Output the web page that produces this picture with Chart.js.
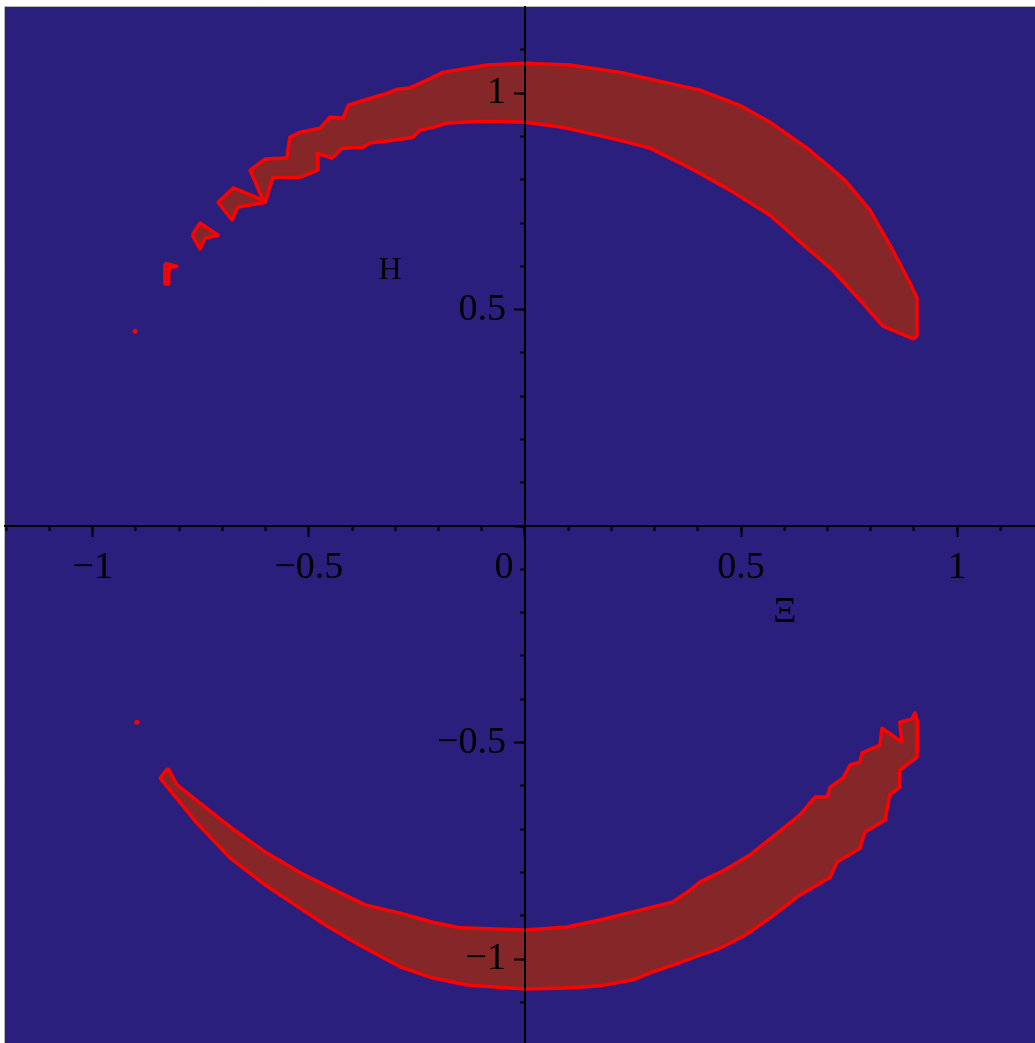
<!DOCTYPE html>
<html>
<head>
<meta charset="utf-8">
<script src="https://cdn.jsdelivr.net/npm/chart.js@4.4.1/dist/chart.umd.min.js"></script>
<style>
html,body{margin:0;padding:0;background:#ffffff;overflow:hidden;}
#wrap{width:1035px;height:1043px;}
canvas{display:block;}
</style>
</head>
<body>
<div id="wrap"><canvas id="c" width="1035" height="1043"></canvas></div>
<script>
// ---- data ----
const upperX = [0.900,0.828,0.775,0.712,0.659,0.567,0.474,0.382,0.289,0.220,0.167,0.088,0.000,-0.088,-0.180,-0.213,-0.243,-0.259,-0.305,-0.359,-0.375,-0.423,-0.446,-0.481,-0.479,-0.520,-0.583,-0.601,-0.664,-0.678,-0.710,-0.675,-0.606,-0.636,-0.601,-0.551,-0.544,-0.520,-0.474,-0.451,-0.421,-0.409,-0.365,-0.324,-0.296,-0.266,-0.227,-0.190,-0.088,0.000,0.104,0.220,0.405,0.497,0.567,0.659,0.740,0.798,0.851,0.891,0.907,0.907];
const upperY = [0.432,0.462,0.522,0.591,0.637,0.718,0.776,0.827,0.873,0.891,0.903,0.921,0.933,0.935,0.931,0.921,0.915,0.898,0.891,0.885,0.875,0.873,0.850,0.861,0.822,0.806,0.806,0.748,0.737,0.707,0.748,0.781,0.753,0.822,0.848,0.850,0.898,0.910,0.919,0.945,0.942,0.972,0.986,0.998,1.009,1.012,1.030,1.048,1.065,1.069,1.065,1.048,1.007,0.972,0.933,0.868,0.799,0.730,0.637,0.561,0.527,0.441];
const fragAX = [-0.770,-0.752,-0.710,-0.740,-0.752];
const fragAY = [0.672,0.700,0.672,0.665,0.640];
const fragBX = [-0.833,-0.805,-0.824,-0.824,-0.833];
const fragBY = [0.607,0.600,0.596,0.559,0.559];
const dotsX = [-0.902,-0.898];
const dotsY = [0.450,-0.453];
const lowerX = [-0.826,-0.805,-0.752,-0.682,-0.601,-0.520,-0.440,-0.370,-0.289,-0.213,-0.150,0.000,0.097,0.173,0.266,0.342,0.382,0.405,0.463,0.520,0.578,0.636,0.671,0.699,0.706,0.736,0.752,0.775,0.780,0.821,0.826,0.872,0.867,0.895,0.902,0.909,0.907,0.867,0.867,0.844,0.833,0.786,0.775,0.722,0.706,0.636,0.567,0.509,0.451,0.405,0.342,0.289,0.250,0.173,0.097,0.000,-0.134,-0.213,-0.289,-0.382,-0.463,-0.532,-0.601,-0.682,-0.759,-0.844];
const lowerY = [-0.559,-0.598,-0.640,-0.695,-0.753,-0.801,-0.841,-0.875,-0.894,-0.915,-0.928,-0.933,-0.926,-0.910,-0.887,-0.868,-0.841,-0.822,-0.794,-0.760,-0.714,-0.667,-0.626,-0.626,-0.603,-0.582,-0.552,-0.545,-0.524,-0.506,-0.467,-0.499,-0.453,-0.446,-0.432,-0.453,-0.533,-0.564,-0.603,-0.621,-0.679,-0.707,-0.744,-0.776,-0.811,-0.852,-0.905,-0.945,-0.975,-0.991,-1.014,-1.032,-1.048,-1.062,-1.067,-1.069,-1.060,-1.044,-1.018,-0.968,-0.921,-0.875,-0.829,-0.767,-0.686,-0.582];
const xTickValues = [-1,-0.5,0.5,1];
const xTickLabels = ['\u22121','\u22120.5','0.5','1'];
const yTickValues = [-1,-0.5,0.5,1];
const yTickLabels = ['\u22121','\u22120.5','0.5','1'];
const xTitle = '\u039E';
const yTitle = 'H';
const originLabel = '0';

// ---- helpers ----
function closedPoly(xs, ys){
  const pts = xs.map((x,i)=>({x:x, y:ys[i]}));
  pts.push({x:xs[0], y:ys[0]});
  return pts;
}
const BG = '#2a1f7d';
const FILL = '#852628';
const EDGE = '#ff0000';
const SERIF = "'Liberation Serif', 'DejaVu Serif', serif";

function shapeDs(xs, ys){
  return {data: closedPoly(xs, ys), showLine:true, fill:'shape', backgroundColor:FILL, borderColor:EDGE,
    borderWidth:3.5, borderJoinStyle:'round', pointRadius:0, pointHoverRadius:0, tension:0};
}

const bgPlugin = {
  id:'bg',
  beforeDraw(chart){
    const {ctx, chartArea:a} = chart;
    ctx.save();
    ctx.fillStyle = BG;
    ctx.fillRect(a.left, a.top, a.right-a.left, a.bottom-a.top);
    ctx.strokeStyle = '#b8b8b8';
    ctx.lineWidth = 1;
    ctx.beginPath();
    ctx.moveTo(a.left-0.5, a.bottom); ctx.lineTo(a.left-0.5, a.top-0.5); ctx.lineTo(a.right, a.top-0.5);
    ctx.stroke();
    ctx.restore();
  }
};
const textPlugin = {
  id:'texts',
  afterDraw(chart){
    const {ctx, scales} = chart;
    const xs = scales.x, ys = scales.y;
    ctx.save();
    ctx.fillStyle = '#000';
    ctx.textAlign = 'center';
    ctx.textBaseline = 'middle';
    ctx.font = "38px " + SERIF;
    ctx.fillText(originLabel, xs.getPixelForValue(0) - 21, ys.getPixelForValue(0) + 42);
    ctx.font = "32px " + SERIF;
    ctx.fillText(yTitle, xs.getPixelForValue(-0.312), ys.getPixelForValue(0.591));
    ctx.font = "36px " + SERIF;
    ctx.fillText(xTitle, xs.getPixelForValue(0.601), ys.getPixelForValue(-0.199));
    ctx.restore();
  }
};

function labelFor(values, labels, suffix){
  return function(v){
    for (let i=0;i<values.length;i++){ if (Math.abs(values[i]-v) < 1e-6) return labels[i] + suffix; }
    return '';
  };
}
function noPad(scale){
  scale.paddingTop = 0; scale.paddingBottom = 0; scale.paddingLeft = 0; scale.paddingRight = 0;
}

const XMIN=-1.203, XMAX=1.180, YMIN=-1.194, YMAX=1.199;

new Chart(document.getElementById('c'), {
  type:'scatter',
  data:{ datasets:[
    shapeDs(upperX, upperY),
    shapeDs(fragAX, fragAY),
    shapeDs(fragBX, fragBY),
    shapeDs(lowerX, lowerY),
    {data: dotsX.map((x,i)=>({x:x,y:dotsY[i]})), showLine:false, pointRadius:2.5, pointHoverRadius:0, pointBackgroundColor:EDGE, pointBorderWidth:0}
  ]},
  options:{
    responsive:false, animation:false, devicePixelRatio:1,
    layout:{autoPadding:false, padding:{left:5, top:7, right:0, bottom:0}},
    plugins:{legend:{display:false}, tooltip:{enabled:false}},
    scales:{
      x:{type:'linear', min:XMIN, max:XMAX, position:{y:0}, afterFit:noPad,
        ticks:{z:1, stepSize:0.5, includeBounds:false, autoSkip:false, maxRotation:0, padding:9, color:'#000',
          font:{family:SERIF, size:38}, callback:labelFor(xTickValues, xTickLabels, '')},
        grid:{z:1, drawOnChartArea:false, drawTicks:true, tickLength:10, tickColor:'#000', tickWidth:2},
        border:{z:1, display:true, color:'#000', width:2}},
      xMinor:{type:'linear', axis:'x', min:XMIN, max:XMAX, position:{y:0}, afterFit:noPad,
        ticks:{stepSize:0.1, includeBounds:false, autoSkip:false, display:false},
        grid:{z:1, drawOnChartArea:false, drawTicks:true, tickLength:5, tickColor:'#000', tickWidth:2},
        border:{display:false}},
      y:{type:'linear', min:YMIN, max:YMAX, position:{x:0}, afterFit:noPad,
        ticks:{z:1, stepSize:0.5, includeBounds:false, autoSkip:false, padding:9, color:'#000',
          font:{family:SERIF, size:38}, callback:labelFor(yTickValues, yTickLabels, '\u2002')},
        grid:{z:1, drawOnChartArea:false, drawTicks:true, tickLength:10, tickColor:'#000', tickWidth:2},
        border:{z:1, display:true, color:'#000', width:2}},
      yMinor:{type:'linear', axis:'y', min:YMIN, max:YMAX, position:{x:0}, afterFit:noPad,
        ticks:{stepSize:0.1, includeBounds:false, autoSkip:false, display:false},
        grid:{z:1, drawOnChartArea:false, drawTicks:true, tickLength:5, tickColor:'#000', tickWidth:2},
        border:{display:false}}
    }
  },
  plugins:[bgPlugin, textPlugin]
});
</script>
</body>
</html>
